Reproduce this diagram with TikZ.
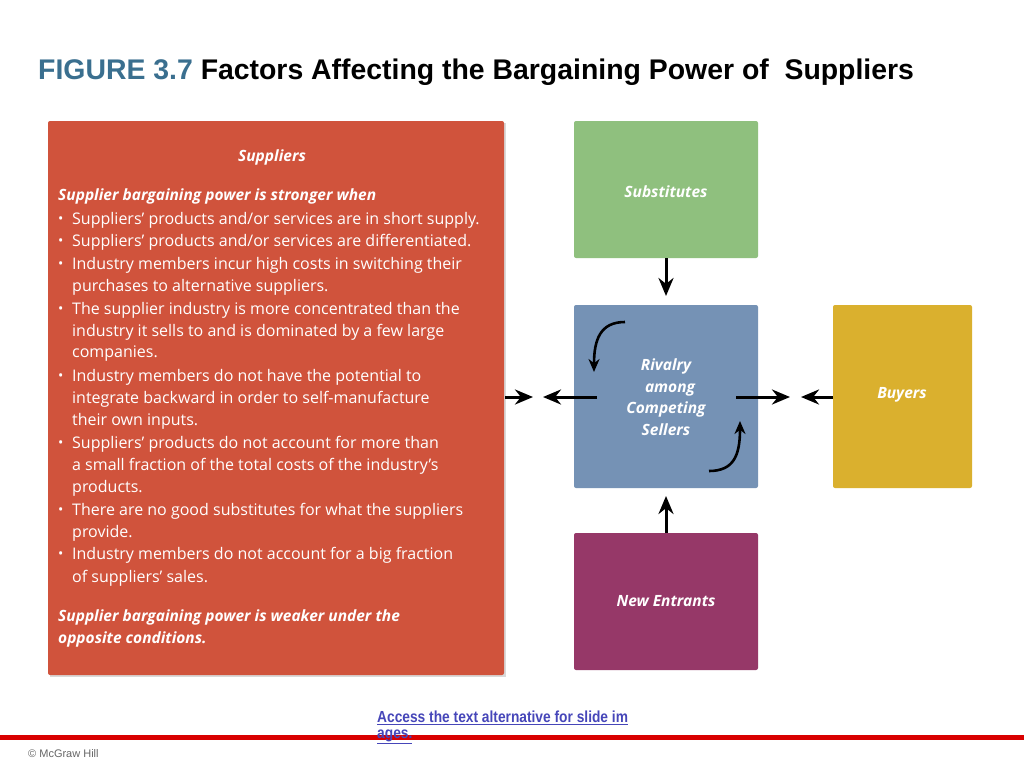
\documentclass[tikz,border=0pt]{standalone}
\usepackage{fontspec}
\setmainfont{Open Sans}
\newfontfamily\lib{Liberation Sans}
\newfontfamily\libn[FakeStretch=0.86]{Liberation Sans}
\usetikzlibrary{arrows.meta}
\definecolor{redbox}{HTML}{D0533C}
\definecolor{greenbox}{HTML}{8FC07E}
\definecolor{bluebox}{HTML}{7592B5}
\definecolor{yellowbox}{HTML}{DAB02E}
\definecolor{purplebox}{HTML}{963868}
\definecolor{titleblue}{HTML}{3A6F8F}
\begin{document}
\begin{tikzpicture}[x=1pt,y=-1pt,
 box/.style={rounded corners=2pt,draw=none},
 lbl/.style={text=white,font=\fontsize{15.5}{21.5}\selectfont\bfseries\itshape,align=center},
 ln/.style={anchor=west,text=white,font=\fontsize{16}{18}\selectfont,inner sep=0},
 bl/.style={anchor=west,text=white,font=\fontsize{15.5}{18}\selectfont\bfseries\itshape,inner sep=0},
 arr/.style={line width=3pt,-{Stealth[length=18pt,width=15pt]}},
 carr/.style={line width=2.6pt,-{Stealth[length=13pt,width=11pt]}}]
\useasboundingbox (0,0) rectangle (1024,768);
\fill[white] (0,0) rectangle (1024,768);
\node[anchor=west,inner sep=0,font=\lib\fontsize{28.4}{30}\selectfont\bfseries] (title) at (38,72) {\textcolor{titleblue}{FIGURE 3.7} Factors Affecting the Bargaining Power of~ Suppliers};
% boxes
\fill[gray!30] (50,123) rectangle (506,677);
\fill[box,redbox] (48,121) rectangle (504,675);
\node (sup) at (276,344) {};
\fill[box,greenbox] (574,121) rectangle (758,258); \node[lbl] (subs) at (666,192) {Substitutes};
\fill[box,bluebox] (574,305) rectangle (758,488); \node[lbl] (riv) at (666,397) {Rivalry\\ \ \ among\\Competing\\Sellers};
\fill[box,yellowbox] (833,305) rectangle (972,488); \node[lbl] (buy) at (902,395) {Buyers};
\fill[box,purplebox] (574,533) rectangle (758,670); \node[lbl] (ne) at (666,601) {New Entrants};
\coordinate (gB) at (666,258); \coordinate (bT) at (666,296);
\coordinate (pT) at (666,533); \coordinate (bB) at (666,496);
\coordinate (l1) at (597,397); \coordinate (l2) at (543,397);
\coordinate (r0) at (505,397); \coordinate (r1) at (533,397);
\coordinate (q1) at (736,397); \coordinate (q2) at (790,397);
\coordinate (y0) at (833,397); \coordinate (y1) at (801,397);
\draw[arr] (gB) -- (bT);
\draw[arr] (pT) -- (bB);
\draw[arr] (l1) -- (l2);
\draw[arr] (r0) -- (r1);
\draw[arr] (q1) -- (q2);
\draw[arr] (y0) -- (y1);
\coordinate (c1) at (625,322); \coordinate (c2) at (594,372);
\draw[carr] (c1) .. controls (600,322) and (594,340) .. (c2);
\coordinate (d1) at (709,471); \coordinate (d2) at (740,421);
\draw[carr] (d1) .. controls (734,471) and (740,455) .. (d2);
% text
\node[lbl,font=\fontsize{15.5}{18}\selectfont\bfseries\itshape] at (272,157) {Suppliers};
\node[bl] at (58,196) {Supplier bargaining power is stronger when};
\foreach \y/\t/\b in {
220/{Suppliers’ products and/or services are in short supply.}/1,
242/{Suppliers’ products and/or services are differentiated.}/1,
265/{Industry members incur high costs in switching their}/1,
287/{purchases to alternative suppliers.}/0,
310/{The supplier industry is more concentrated than the}/1,
332/{industry it sells to and is dominated by a few large}/0,
354/{companies.}/0,
377/{Industry members do not have the potential to}/1,
399/{integrate backward in order to self-manufacture}/0,
421/{their own inputs.}/0,
444/{Suppliers’ products do not account for more than}/1,
466/{a small fraction of the total costs of the industry’s}/0,
488/{products.}/0,
511/{There are no good substitutes for what the suppliers}/1,
533/{provide.}/0,
555/{Industry members do not account for a big fraction}/1,
578/{of suppliers’ sales.}/0}{
 \node[ln] at (72,\y) {\t};
 \ifnum\b=1 \node[ln,font=\fontsize{14}{14}\selectfont] at (58,\y) {•}; \fi
}
\node[bl] at (58,617) {Supplier bargaining power is weaker under the};
\node[bl] at (58,639) {opposite conditions.};
% footer
\fill[red!85!black] (0,735) rectangle (1024,740);
\node[anchor=west,inner sep=0,font=\libn\fontsize{16}{15}\selectfont\bfseries,text=blue!45!gray] (acc) at (377,718) {\underline{Access the text alternative for slide im}};
\node[anchor=west,inner sep=0,font=\libn\fontsize{16}{15}\selectfont\bfseries,text=blue!45!gray] (acc2) at (377,737) {\underline{ages.}};
\node[anchor=west,inner sep=0,font=\lib\fontsize{11}{12}\selectfont,text=gray!80!black] (mc) at (28,754) {© McGraw Hill};
\end{tikzpicture}
\end{document}
